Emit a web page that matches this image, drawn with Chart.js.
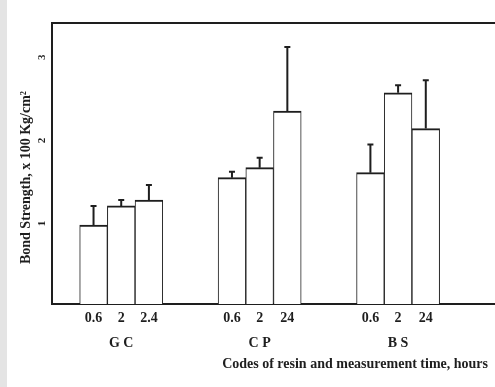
<!DOCTYPE html>
<html>
<head>
<meta charset="utf-8">
<script src="https://cdn.jsdelivr.net/npm/chart.js@4/dist/chart.umd.min.js"></script>
<style>
  html, body { margin: 0; padding: 0; }
  body { background: linear-gradient(to right, #e4e4e4 0 7px, #fff 7px); width: 495px; height: 387px; overflow: hidden; }
  canvas { display: block; }
</style>
</head>
<body>
<canvas id="chart" width="495" height="387"></canvas>
<script>
// values
const groups = ["G C", "C P", "B S"];
const times = [["0.6", "2", "2.4"], ["0.6", "2", "24"], ["0.6", "2", "24"]];
const means = [[0.95, 1.18, 1.25], [1.52, 1.64, 2.32], [1.58, 2.54, 2.11]];
const errUp = [[0.23, 0.07, 0.18], [0.07, 0.12, 0.77], [0.34, 0.09, 0.58]];
const yTicks = [1, 2, 3];

// one empty slot before, two between groups and two after
const labels = [""];
const values = [null];
const errors = [null];
groups.forEach((g, gi) => {
  times[gi].forEach((t, i) => {
    labels.push(i === 1 ? [t, g] : t);
    values.push(means[gi][i]);
    errors.push(errUp[gi][i]);
  });
  labels.push("", "");
  values.push(null, null);
  errors.push(null, null);
});

const ink = "#1e1e1e";
const serif = "'Liberation Serif', 'DejaVu Serif', serif";

const errorBars = {
  id: "errorBars",
  afterDatasetsDraw(chart) {
    const ctx = chart.ctx;
    const y = chart.scales.y;
    const meta = chart.getDatasetMeta(0);
    ctx.save();
    ctx.strokeStyle = ink;
    ctx.lineWidth = 2;
    meta.data.forEach((bar, i) => {
      if (values[i] == null) return;
      const top = y.getPixelForValue(values[i] + errors[i]);
      ctx.beginPath();
      ctx.moveTo(bar.x, bar.y);
      ctx.lineTo(bar.x, top);
      ctx.moveTo(bar.x - 3, top);
      ctx.lineTo(bar.x + 3, top);
      ctx.stroke();
    });
    ctx.restore();
  }
};

new Chart(document.getElementById("chart"), {
  type: "bar",
  data: {
    labels: labels,
    datasets: [{
      data: values,
      backgroundColor: "#ffffff",
      borderColor: ink,
      borderWidth: { left: 1, right: 1, top: 2, bottom: 0 },
      borderSkipped: false,
      barPercentage: 1,
      categoryPercentage: 1
    }]
  },
  options: {
    responsive: false,
    animation: false,
    layout: { padding: { top: 23, left: 0, right: 0, bottom: 0 } },
    plugins: { legend: { display: false }, tooltip: { enabled: false } },
    scales: {
      x: {
        position: "bottom",
        grid: { display: false },
        border: { display: true, color: ink, width: 2 },
        ticks: {
          autoSkip: false,
          maxRotation: 0,
          padding: -7,
          color: ink,
          font: { family: serif, size: 14, weight: "bold", lineHeight: 1.85 }
        },
        title: {
          display: true,
          text: "Codes of resin and measurement time, hours  ",
          align: "end",
          color: ink,
          padding: { top: 0, bottom: 14 },
          font: { family: serif, size: 14, weight: "bold" }
        },
        afterFit: s => { s.height = 83; }
      },
      x2: {
        position: "top",
        type: "category",
        labels: labels,
        grid: { display: false },
        ticks: { display: false },
        border: { display: true, color: ink, width: 2 },
        afterFit: s => { s.height = 0; }
      },
      y: {
        min: 0,
        max: 3.38,
        grid: { display: false },
        border: { display: true, color: ink, width: 2 },
        afterBuildTicks: s => { s.ticks = yTicks.map(v => ({ value: v })); },
        ticks: {
          padding: 2,
          minRotation: 90,
          color: ink,
          font: { family: serif, size: 11, weight: "bold" }
        },
        title: {
          display: true,
          text: "Bond Strength, x 100 Kg/cm\u00B2\u2003\u2003",
          color: ink,
          padding: { top: 18, bottom: 0 },
          font: { family: serif, size: 14, weight: "bold" }
        },
        afterFit: s => { s.width = 52; }
      }
    }
  },
  plugins: [errorBars]
});
</script>
</body>
</html>
